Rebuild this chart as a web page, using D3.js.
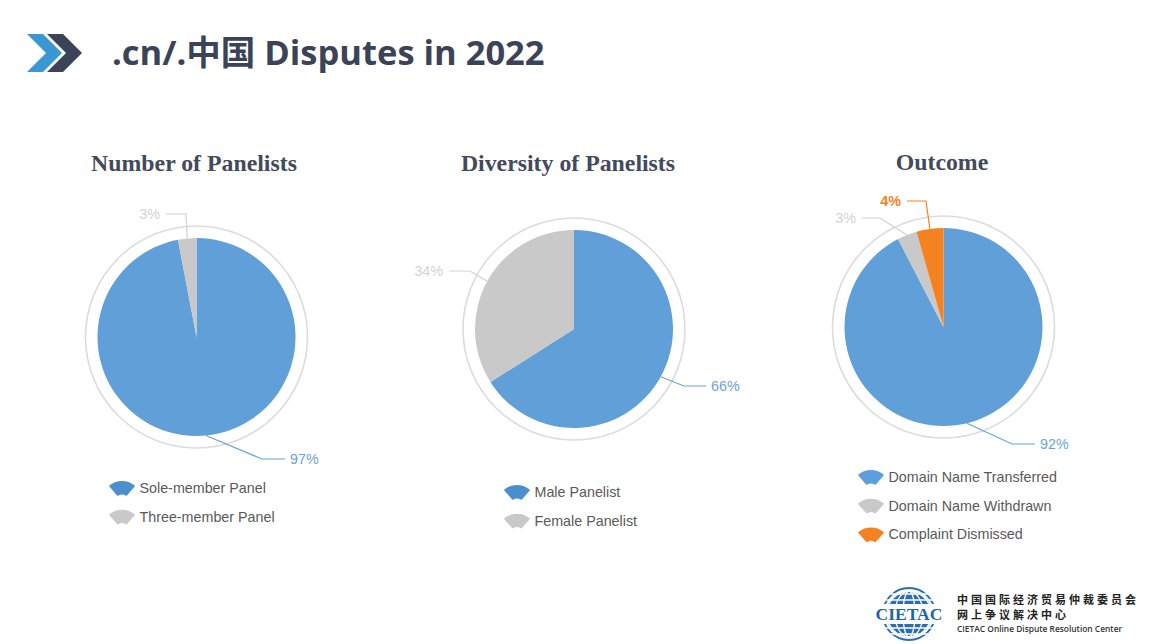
<!DOCTYPE html>
<html>
<head>
<meta charset="utf-8">
<script src="https://cdn.jsdelivr.net/npm/d3@7"></script>
<style>
  html, body { margin: 0; padding: 0; background: #fff; }
  text { font-family: "Liberation Sans", sans-serif; }
  .title { font-family: "Open Sans", "Noto Sans CJK SC", sans-serif; font-size: 34.5px; font-weight: 700; fill: #3b4358; }
  .chart-title { font-family: "Liberation Serif", serif; font-size: 23.8px; font-weight: 700; fill: #434a5c; }
  .legend-label { font-size: 14.3px; fill: #595959; }
  .value-label { font-size: 14.3px; }
  .logo-mark { font-family: "Liberation Serif", serif; font-size: 17.5px; font-weight: 700; fill: #1d65a8; }
  .logo-cn { font-family: "Noto Sans CJK SC", sans-serif; font-size: 11px; font-weight: 700; letter-spacing: 3px; fill: #222; }
  .logo-en { font-family: "Open Sans", sans-serif; font-size: 8.4px; font-weight: 600; fill: #333; }
</style>
</head>
<body>
<svg id="slide" width="1150" height="644"></svg>
<script>
// Values, clockwise from 12 o'clock
const panelCategories = ["Sole-member Panel", "Three-member Panel"];
const panelValues = [97, 3];

const diversityCategories = ["Male Panelist", "Female Panelist"];
const diversityValues = [66, 34];

const outcomeCategories = ["Domain Name Transferred", "Domain Name Withdrawn", "Complaint Dismissed"];
const outcomeValues = [92.4, 3.2, 4.4]; // slice sizes, the labels show them rounded

const sliceColors = ["#619fd8", "#c9c9c9", "#f58220"];
const labelColors = ["#6ba3d9", "#d2d2d2", "#f58220"];

const pageTitle = ".cn/.中国 Disputes in 2022";
const radius = 99;
const ringRadius = 111;

// layout of each pie: centre, title, legend and the elbows of the leader lines
const charts = [
  {
    title: "Number of Panelists", cats: panelCategories, vals: panelValues, keyBlue: "#4b8fcf",
    cx: 196.5, cy: 337, titleX: 194, titleY: 171, legendX: 122, legendY: 488,
    elbows: [[262, 459, 285], [186, 214, 166]]
  },
  {
    title: "Diversity of Panelists", cats: diversityCategories, vals: diversityValues, keyBlue: "#4b8fcf",
    cx: 574, cy: 329, titleX: 568, titleY: 171, legendX: 517, legendY: 492,
    elbows: [[684, 386, 706], [470, 271, 449]]
  },
  {
    title: "Outcome", cats: outcomeCategories, vals: outcomeValues, keyBlue: "#5d9fdc",
    cx: 943.5, cy: 327, titleX: 942, titleY: 170, legendX: 871, legendY: 477,
    elbows: [[1012, 444, 1035], [880, 218, 862], [926, 201, 907]]
  }
];

const svg = d3.select("#slide");

// header arrows
const arrowPath = (x) => `M${x},34 h16 l19,19 l-19,19 h-16 l19,-19 z`;
svg.append("path").attr("d", arrowPath(47)).attr("fill", "#3b4358");
svg.append("path").attr("d", arrowPath(27)).attr("fill", "#3a97d4");

svg.append("text").attr("class", "title").attr("x", 112).attr("y", 65).text(pageTitle);

const pie = d3.pie().sort(null).value((d) => d);
const arc = d3.arc().innerRadius(0).outerRadius(radius);
const legendArc = d3.arc().innerRadius(6.5).outerRadius(20)
  .startAngle(-0.72).endAngle(0.72).cornerRadius(1);

charts.forEach((c) => {
  const total = d3.sum(c.vals);
  const scale = d3.scaleLinear().domain([0, total]).range([0, 2 * Math.PI]);

  svg.append("text").attr("class", "chart-title")
    .attr("x", c.titleX).attr("y", c.titleY).attr("text-anchor", "middle").text(c.title);

  const g = svg.append("g").attr("transform", `translate(${c.cx},${c.cy})`);

  g.append("circle").attr("r", ringRadius)
    .attr("fill", "none").attr("stroke", "#dcdcdc").attr("stroke-width", 1.6);

  const slices = pie(c.vals);
  g.selectAll(".slice").data(slices).enter().append("path")
    .attr("class", "slice")
    .attr("d", arc)
    .attr("fill", (d, i) => sliceColors[i]);

  // leader lines and value labels
  slices.forEach((d, i) => {
    const mid = scale(d3.sum(c.vals.slice(0, i)) + c.vals[i] / 2);
    const sx = c.cx + Math.sin(mid) * radius;
    const sy = c.cy - Math.cos(mid) * radius;
    const [ex, ey, lx] = c.elbows[i];
    const toRight = lx > ex;
    svg.append("polyline")
      .attr("points", `${sx},${sy} ${ex},${ey} ${lx},${ey}`)
      .attr("fill", "none").attr("stroke", labelColors[i]).attr("stroke-width", 1.2);
    svg.append("text").attr("class", "value-label")
      .attr("x", toRight ? lx + 5 : lx - 6).attr("y", ey + 5)
      .attr("text-anchor", toRight ? "start" : "end")
      .attr("fill", labelColors[i])
      .attr("font-weight", i === 2 ? 700 : 400)
      .text(Math.round(c.vals[i]) + "%");
  });

  // fan shaped legend keys
  c.cats.forEach((name, i) => {
    const y = c.legendY + i * 28.7;
    svg.append("path")
      .attr("transform", `translate(${c.legendX},${y + 13})`)
      .attr("d", legendArc())
      .attr("fill", i === 0 ? c.keyBlue : sliceColors[i]);
    svg.append("text").attr("class", "legend-label")
      .attr("x", c.legendX + 17.5).attr("y", y + 5).text(name);
  });
});

// CIETAC logo block
const logo = svg.append("g").attr("transform", "translate(909,614)");
const globeBands = [[-28, -10], [10, 28]];
const meridians = [6, 14, 22];
const parallels = [-20, -14, 14, 20];
globeBands.forEach(([a, b], n) => {
  logo.append("clipPath").attr("id", `band${n}`)
    .append("rect").attr("x", -30).attr("y", a).attr("width", 60).attr("height", b - a);
  const band = logo.append("g").attr("clip-path", `url(#band${n})`);
  band.append("circle").attr("r", 26).attr("fill", "none").attr("stroke", "#2a6db0").attr("stroke-width", 2);
  band.append("circle").attr("r", 23).attr("fill", "#2a6db0");
  meridians.forEach((rx) => {
    band.append("ellipse").attr("rx", rx).attr("ry", 23)
      .attr("fill", "none").attr("stroke", "#fff").attr("stroke-width", 1.3);
  });
  parallels.forEach((y) => {
    band.append("line").attr("x1", -26).attr("x2", 26).attr("y1", y).attr("y2", y)
      .attr("stroke", "#fff").attr("stroke-width", 1.3);
  });
});
logo.append("text").attr("class", "logo-mark").attr("text-anchor", "middle").attr("y", 6).text("CIETAC");

const logoLines = ["中国国际经济贸易仲裁委员会", "网上争议解决中心"];
logoLines.forEach((t, i) => {
  svg.append("text").attr("class", "logo-cn").attr("x", 957).attr("y", 604 + i * 15).text(t);
});
svg.append("text").attr("class", "logo-en").attr("x", 957).attr("y", 632)
  .text("CIETAC Online Dispute Resolution Center");
</script>
</body>
</html>
